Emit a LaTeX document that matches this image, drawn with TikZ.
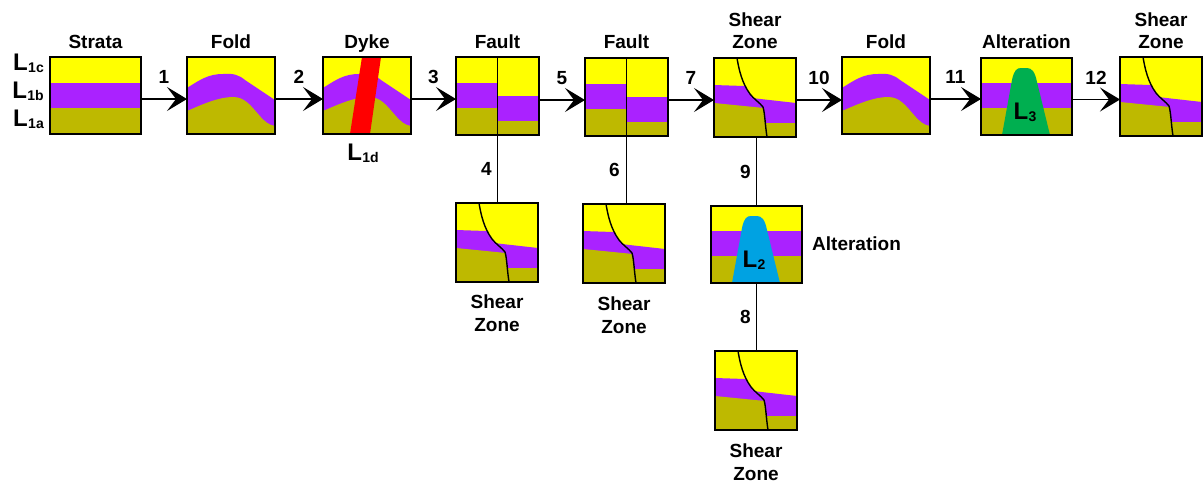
\documentclass[tikz,border=0pt]{standalone}
\usepackage{fontspec}
\setmainfont{Liberation Sans}
\usetikzlibrary{arrows.meta}

\definecolor{layyel}{RGB}{255,255,0}
\definecolor{laypur}{RGB}{170,34,255}
\definecolor{layoli}{RGB}{190,185,0}
\definecolor{dykered}{RGB}{255,0,0}
\definecolor{plumegreen}{RGB}{0,175,80}
\definecolor{plumeblue}{RGB}{0,162,226}

% unit label with a subscript index
\newcommand\Lsub[1]{L\kern0.02em\raisebox{-0.12em}{\fontsize{14}{14}\selectfont #1}}

\begin{document}
\begin{tikzpicture}[x=1pt,y=-1pt,
  geobox/.style 2 args={draw, line width=1.8pt, inner sep=0pt, outer sep=0pt,
    anchor=north west, minimum width=#1pt, minimum height=#2pt},
  flow/.style={line width=1.4pt, -{Stealth[length=20pt,width=24pt,inset=9pt]}},
  link/.style={line width=1.4pt},
  title/.style={font=\fontsize{19}{22.5}\selectfont\bfseries, align=center,
    inner sep=0pt, anchor=south, text depth=0pt},
  sublabel/.style={font=\fontsize{19}{23}\selectfont\bfseries, align=center,
    inner sep=0pt, anchor=north},
  num/.style={font=\fontsize{19}{19}\selectfont\bfseries, inner sep=0pt},
  unitlab/.style={font=\fontsize{24}{24}\selectfont\bfseries, inner sep=0pt},
  % flat-lying strata
  pics/strata/.style={code={
    \fill[layyel] (0,0) rectangle (91,77);
    \fill[laypur] (0,26) rectangle (91,51);
    \fill[layoli] (0,51) rectangle (91,77);
  }},
  % folded strata
  pics/fold/.style={code={
    \fill[layyel] (0,0) rectangle (88,77);
    \fill[laypur] (0,31) .. controls (14,22) and (22,17) .. (36,17)
      .. controls (46,16) and (52,18) .. (58,23) -- (88,43) -- (88,77) -- (0,77) -- cycle;
    \fill[layoli] (0,54) .. controls (16,47) and (32,40) .. (46,40)
      .. controls (58,40) and (64,49) .. (72,58) .. controls (78,65) and (82,68) .. (88,69)
      -- (88,77) -- (0,77) -- cycle;
  }},
  % folded strata cut by a dyke
  pics/dyke/.style={code={
    \pic {fold};
    \fill[dykered] (39,0) -- (58,0) -- (47,77) -- (27,77) -- cycle;
  }},
  % offset along a vertical fault
  pics/fault/.style={code={
    \fill[layyel] (0,0) rectangle (83,78);
    \fill[laypur] (0,26) rectangle (41,51);
    \fill[layoli] (0,51) rectangle (41,78);
    \fill[laypur] (41,39) rectangle (83,64);
    \fill[layoli] (41,64) rectangle (83,78);
    \draw[line width=0.9pt] (41,0) -- (41,78);
  }},
  % strata dragged along a curved shear zone
  pics/shear/.style={code={
    \fill[layyel] (0,0) rectangle (82,79);
    \begin{scope}
      \clip (0,0) -- (23,0) .. controls (25,12) and (28,25) .. (36,36)
        .. controls (41,42) and (46,45) .. (49,49) .. controls (51,56) and (51,66) .. (53,79)
        -- (0,79) -- cycle;
      \fill[laypur] (0,27) -- (60,29) -- (60,79) -- (0,79) -- cycle;
      \fill[layoli] (0,45) -- (60,51) -- (60,79) -- (0,79) -- cycle;
    \end{scope}
    \begin{scope}
      \clip (23,0) .. controls (25,12) and (28,25) .. (36,36)
        .. controls (41,42) and (46,45) .. (49,49) .. controls (51,56) and (51,66) .. (53,79)
        -- (82,79) -- (82,0) -- cycle;
      \fill[laypur] (20,38) -- (82,45) -- (82,79) -- (20,79) -- cycle;
      \fill[layoli] (20,65) -- (82,65) -- (82,79) -- (20,79) -- cycle;
    \end{scope}
    \draw[line width=1.4pt] (23,0) .. controls (25,12) and (28,25) .. (36,36)
      .. controls (41,42) and (46,45) .. (49,49) .. controls (51,56) and (51,66) .. (53,79);
  }},
  % strata intruded by an alteration body
  pics/alter/.style={code={
    \fill[layyel] (0,0) rectangle (91,77);
    \fill[laypur] (0,25) rectangle (91,50);
    \fill[layoli] (0,50) rectangle (91,77);
    \fill[#1] (21,77) -- (31,22) .. controls (33,12) and (36,10) .. (40,10) -- (46,10)
      .. controls (51,10) and (54,14) .. (56,24) -- (69,77) -- cycle;
  }},
]
\useasboundingbox (0,0) rectangle (1203,483);

% ---- block contents ----
\pic at (50,57) {strata};
\pic at (187,57) {fold};
\pic at (323,57) {dyke};
\pic at (456,57) {fault};
\pic at (585,58) {fault};
\pic at (714,58) {shear};
\pic at (842,57) {fold};
\pic at (981,58) {alter=plumegreen};
\pic at (1120,57) {shear};
\pic at (456,203) {shear};
\pic at (583,204) {shear};
\pic at (711,206) {alter=plumeblue};
\pic at (715,351) {shear};

% ---- block outlines ----
\node[geobox={91}{77}] (bStrata) at (50,57) {};
\node[geobox={88}{77}] (bFoldA) at (187,57) {};
\node[geobox={88}{77}] (bDyke) at (323,57) {};
\node[geobox={83}{78}] (bFaultA) at (456,57) {};
\node[geobox={83}{78}] (bFaultB) at (585,58) {};
\node[geobox={82}{79}] (bShearA) at (714,58) {};
\node[geobox={88}{77}] (bFoldB) at (842,57) {};
\node[geobox={91}{77}] (bAltA) at (981,58) {};
\node[geobox={82}{79}] (bShearB) at (1120,57) {};
\node[geobox={82}{79}] (bSzA) at (456,203) {};
\node[geobox={82}{79}] (bSzB) at (583,204) {};
\node[geobox={91}{77}] (bAltB) at (711,206) {};
\node[geobox={82}{79}] (bSzC) at (715,351) {};

% ---- titles ----
\node[title] (tStrata) at ([yshift=8pt]bStrata.north) {Strata};
\node[title] (tFoldA) at ([yshift=8pt]bFoldA.north) {Fold};
\node[title] (tDyke) at ([yshift=8pt]bDyke.north) {Dyke};
\node[title] (tFaultA) at ([yshift=8pt]bFaultA.north) {Fault};
\node[title] (tFaultB) at ([yshift=9pt]bFaultB.north) {Fault};
\node[title] (tShearA) at ([yshift=9pt]bShearA.north) {Shear\\Zone};
\node[title] (tFoldB) at ([yshift=8pt]bFoldB.north) {Fold};
\node[title] (tAltA) at ([yshift=9pt]bAltA.north) {Alteration};
\node[title] (tShearB) at ([yshift=8pt]bShearB.north) {Shear\\Zone};
\node[sublabel] (tSzA) at ([yshift=-13pt]bSzA.south) {Shear\\Zone};
\node[sublabel] (tSzB) at ([yshift=-14pt]bSzB.south) {Shear\\Zone};
\node[sublabel] (tSzC) at ([yshift=-14pt]bSzC.south) {Shear\\Zone};
\node[font=\fontsize{19}{22}\selectfont\bfseries, inner sep=0pt, anchor=west]
  (tAltB) at ([xshift=10pt,yshift=1pt]bAltB.east) {Alteration};

% ---- unit labels ----
\node[unitlab, anchor=base east] (uC) at (44,70) {\Lsub{1c}};
\node[unitlab, anchor=base east] (uB) at (44,98) {\Lsub{1b}};
\node[unitlab, anchor=base east] (uA) at (44,126) {\Lsub{1a}};
\node[unitlab, anchor=base] (uD) at (363,160) {\Lsub{1d}};
\node[unitlab, anchor=base] (uThree) at (1025,119) {\Lsub{3}};
\node[unitlab, anchor=base] (uTwo) at (754,267) {\Lsub{2}};

% ---- event sequence ----
\draw[flow] ([yshift=-3.5pt]bStrata.east) -- ([yshift=-3.5pt]bStrata.east -| bFoldA.west)
  node[num, midway, yshift=22pt] {1};
\draw[flow] ([yshift=-3.5pt]bFoldA.east) -- ([yshift=-3.5pt]bFoldA.east -| bDyke.west)
  node[num, midway, yshift=22pt] {2};
\draw[flow] ([yshift=-3.5pt]bDyke.east) -- ([yshift=-3.5pt]bDyke.east -| bFaultA.west)
  node[num, midway, yshift=22pt] {3};
\draw[flow] ([yshift=-4pt]bFaultA.east) -- ([yshift=-4pt]bFaultA.east -| bFaultB.west)
  node[num, midway, yshift=22pt] {5};
\draw[flow] ([yshift=-3pt]bFaultB.east) -- ([yshift=-3pt]bFaultB.east -| bShearA.west)
  node[num, midway, yshift=22pt] {7};
\draw[flow] ([yshift=-2.5pt]bShearA.east) -- ([yshift=-2.5pt]bShearA.east -| bFoldB.west)
  node[num, midway, yshift=22pt] {10};
\draw[flow] ([yshift=-3.5pt]bFoldB.east) -- ([yshift=-3.5pt]bFoldB.east -| bAltA.west)
  node[num, midway, yshift=22pt] {11};
\draw[flow] ([yshift=-3pt]bAltA.east) -- ([yshift=-3pt]bAltA.east -| bShearB.west)
  node[num, midway, yshift=22pt] {12};

\draw[link] (bFaultA.south) -- (bFaultA.south |- bSzA.north)
  node[num, midway, xshift=-11pt] {4};
\draw[link] (bFaultB.south) -- (bFaultB.south |- bSzB.north)
  node[num, midway, xshift=-12pt] {6};
\draw[link] (bAltB.north |- bShearA.south) -- (bAltB.north)
  node[num, midway, xshift=-11pt] {9};
\draw[link] (bAltB.south) -- (bAltB.south |- bSzC.north)
  node[num, midway, xshift=-11pt] {8};
\end{tikzpicture}
\end{document}
